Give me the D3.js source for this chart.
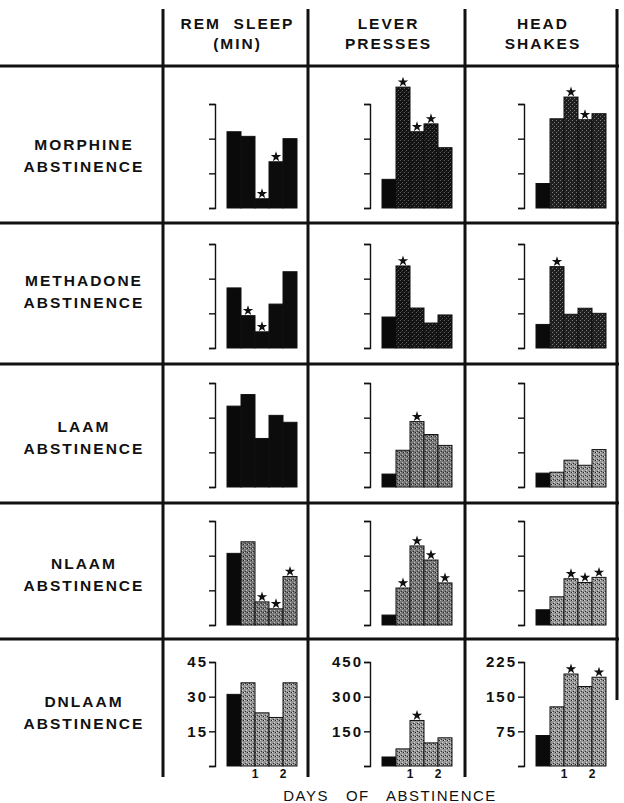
<!DOCTYPE html>
<html>
<head>
<meta charset="utf-8">
<script src="https://cdn.jsdelivr.net/npm/d3@7"></script>
<style>
  body { margin: 0; background: #fff; }
  svg text { font-family: "Liberation Sans", Arial, sans-serif; fill: #111; }
</style>
</head>
<body>
<div id="chart"></div>
<script>
// data: baseline bar + 4 abstinence bars (2 per day)
const drugs = ['MORPHINE', 'METHADONE', 'LAAM', 'NLAAM', 'DNLAAM'];
const measures = [['REM  SLEEP', '(MIN)'], ['LEVER', 'PRESSES'], ['HEAD', 'SHAKES']];
const axisMax = [45, 450, 225];
const tickLabels = [[15, 30, 45], [150, 300, 450], [75, 150, 225]];
const dayLabels = ['1', '2'];

const remSleep = [
  [33, 31, 4, 20, 30],
  [26, 14, 7, 19, 33],
  [35, 40, 21, 31, 28],
  [31, 36, 10, 7, 21],
  [31, 36, 23, 21, 36]
];
const leverPresses = [
  [124, 523, 330, 364, 261],
  [134, 355, 173, 108, 143],
  [56, 159, 283, 227, 180],
  [43, 160, 342, 281, 182],
  [39, 74, 197, 100, 122]
];
const headShakes = [
  [53, 193, 240, 191, 204],
  [51, 176, 73, 86, 75],
  [30, 32, 58, 47, 81],
  [33, 61, 100, 92, 103],
  [66, 128, 199, 172, 192]
];

// significance stars (1 = starred)
const remStars = [
  [0, 0, 1, 1, 0], [0, 1, 1, 0, 0], [0, 0, 0, 0, 0], [0, 0, 1, 1, 1], [0, 0, 0, 0, 0]
];
const leverStars = [
  [0, 1, 1, 1, 0], [0, 1, 0, 0, 0], [0, 0, 1, 0, 0], [0, 1, 1, 1, 1], [0, 0, 1, 0, 0]
];
const headStars = [
  [0, 0, 1, 1, 0], [0, 1, 0, 0, 0], [0, 0, 0, 0, 0], [0, 0, 1, 1, 1], [0, 0, 1, 0, 1]
];

const series = [remSleep, leverPresses, headShakes];
const stars = [remStars, leverStars, headStars];

// layout
const width = 624, height = 803;
const colLines = [163, 308, 465, 617];
const rowLines = [66, 223, 364, 503, 639];
const axisX = [215, 370, 524];
const axisBottom = [208, 348, 487, 625, 766];
const axisH = 104;
const labelBase = [150, 286, 432, 569, 707];

// shade of the abstinence bars per row / column
const shades = [
  ['#0c0c0c', 'dark', 'dark2'],
  ['#0c0c0c', 'dark', 'dark2'],
  ['#0c0c0c', 'mid', 'light'],
  ['mid', 'mid', 'light'],
  ['light', 'light', 'light']
];

const svg = d3.select('#chart').append('svg')
  .attr('width', width)
  .attr('height', height);

// stipple patterns
const defs = svg.append('defs');
const patterns = {
  dark:  { base: '#121212', dot: '#5a5a5a' },
  dark2: { base: '#1e1e1e', dot: '#7a7a7a' },
  mid:   { base: '#767676', dot: '#c0c0c0' },
  light: { base: '#959595', dot: '#d4d4d4' }
};
Object.entries(patterns).forEach(([key, p]) => {
  const pat = defs.append('pattern')
    .attr('id', 'pat-' + key)
    .attr('width', 4).attr('height', 4)
    .attr('patternUnits', 'userSpaceOnUse');
  pat.append('rect').attr('width', 4).attr('height', 4).attr('fill', p.base);
  pat.append('rect').attr('x', 0).attr('y', 0).attr('width', 1).attr('height', 1).attr('fill', p.dot);
  pat.append('rect').attr('x', 2).attr('y', 2).attr('width', 1).attr('height', 1).attr('fill', p.dot);
  pat.append('rect').attr('x', 3).attr('y', 0).attr('width', 1).attr('height', 1).attr('fill', '#222');
  pat.append('rect').attr('x', 1).attr('y', 3).attr('width', 1).attr('height', 1).attr('fill', '#333');
});
const fillFor = s => s.startsWith('#') ? s : `url(#pat-${s})`;

// grid lines
const grid = svg.append('g').attr('stroke', '#111').attr('stroke-width', 3);
rowLines.forEach(y => {
  grid.append('line').attr('x1', 0).attr('x2', colLines[3] + 2).attr('y1', y).attr('y2', y);
});
colLines.forEach((x, i) => {
  grid.append('line').attr('x1', x).attr('x2', x).attr('y1', 9).attr('y2', i === 3 ? 700 : 777);
});

// column headers
measures.forEach((m, c) => {
  const cx = (colLines[c] + colLines[c + 1]) / 2;
  m.forEach((t, k) => {
    svg.append('text')
      .attr('x', cx + 2).attr('y', 29 + k * 20)
      .attr('text-anchor', 'middle')
      .attr('font-size', 15.5).attr('font-weight', 'bold')
      .style('letter-spacing', '2px')
      .style('white-space', 'pre')
      .text(t);
  });
});

// row labels
drugs.forEach((d, r) => {
  [d, 'ABSTINENCE'].forEach((t, k) => {
    svg.append('text')
      .attr('x', 84).attr('y', labelBase[r] + k * 22)
      .attr('text-anchor', 'middle')
      .attr('font-size', 15.5).attr('font-weight', 'bold')
      .style('letter-spacing', '2px')
      .text(t);
  });
});

const star = d3.symbol().type(d3.symbolStar).size(34);

// panels
drugs.forEach((d, r) => {
  series.forEach((s, c) => {
    const vals = s[r];
    const max = axisMax[c];
    const y = d3.scaleLinear()
      .domain([0, max])
      .range([axisBottom[r], axisBottom[r] - axisH]);
    const x = d3.scaleBand()
      .domain(d3.range(vals.length))
      .range([axisX[c] + 12, axisX[c] + 82]);

    const g = svg.append('g');

    const ticks = [0].concat(tickLabels[c]);
    const axis = d3.axisLeft(y)
      .tickValues(ticks)
      .tickSize(6)
      .tickSizeOuter(6)
      .tickFormat(v => (r === drugs.length - 1 && v !== 0) ? v : '');
    const ax = g.append('g')
      .attr('transform', `translate(${axisX[c]},0)`)
      .call(axis);
    ax.selectAll('path, line').attr('stroke', '#111').attr('stroke-width', 1.4);
    ax.selectAll('text')
      .attr('font-size', 15)
      .attr('font-weight', 'bold')
      .attr('font-family', '"Liberation Sans", Arial, sans-serif')
      .attr('fill', '#111')
      .attr('dx', 2)
      .style('letter-spacing', '2px');

    // bars
    g.selectAll('rect.bar')
      .data(vals)
      .join('rect')
        .attr('class', 'bar')
        .attr('x', (v, i) => x(i))
        .attr('y', v => y(v))
        .attr('width', x.bandwidth())
        .attr('height', v => y(0) - y(v))
        .attr('fill', (v, i) => i === 0 ? '#0a0a0a' : fillFor(shades[r][c]))
        .attr('stroke', '#111')
        .attr('stroke-width', 1);

    // stars
    g.selectAll('path.star')
      .data(vals.map((v, i) => ({ v, i })).filter(o => stars[c][r][o.i]))
      .join('path')
        .attr('class', 'star')
        .attr('d', star)
        .attr('fill', '#111')
        .attr('transform', o => `translate(${x(o.i) + x.bandwidth() / 2},${y(o.v) - 5})`);

    // day labels under the last row
    if (r === drugs.length - 1) {
      dayLabels.forEach((t, k) => {
        g.append('text')
          .attr('x', x(1 + 2 * k) + x.bandwidth())
          .attr('y', 778)
          .attr('text-anchor', 'middle')
          .attr('font-size', 12).attr('font-weight', 'bold')
          .text(t);
      });
    }
  });
});

// x title
svg.append('text')
  .attr('x', 390).attr('y', 801)
  .attr('text-anchor', 'middle')
  .attr('font-size', 15)
  .style('letter-spacing', '1.5px')
  .style('white-space', 'pre')
  .text('DAYS   OF   ABSTINENCE');
</script>
</body>
</html>
